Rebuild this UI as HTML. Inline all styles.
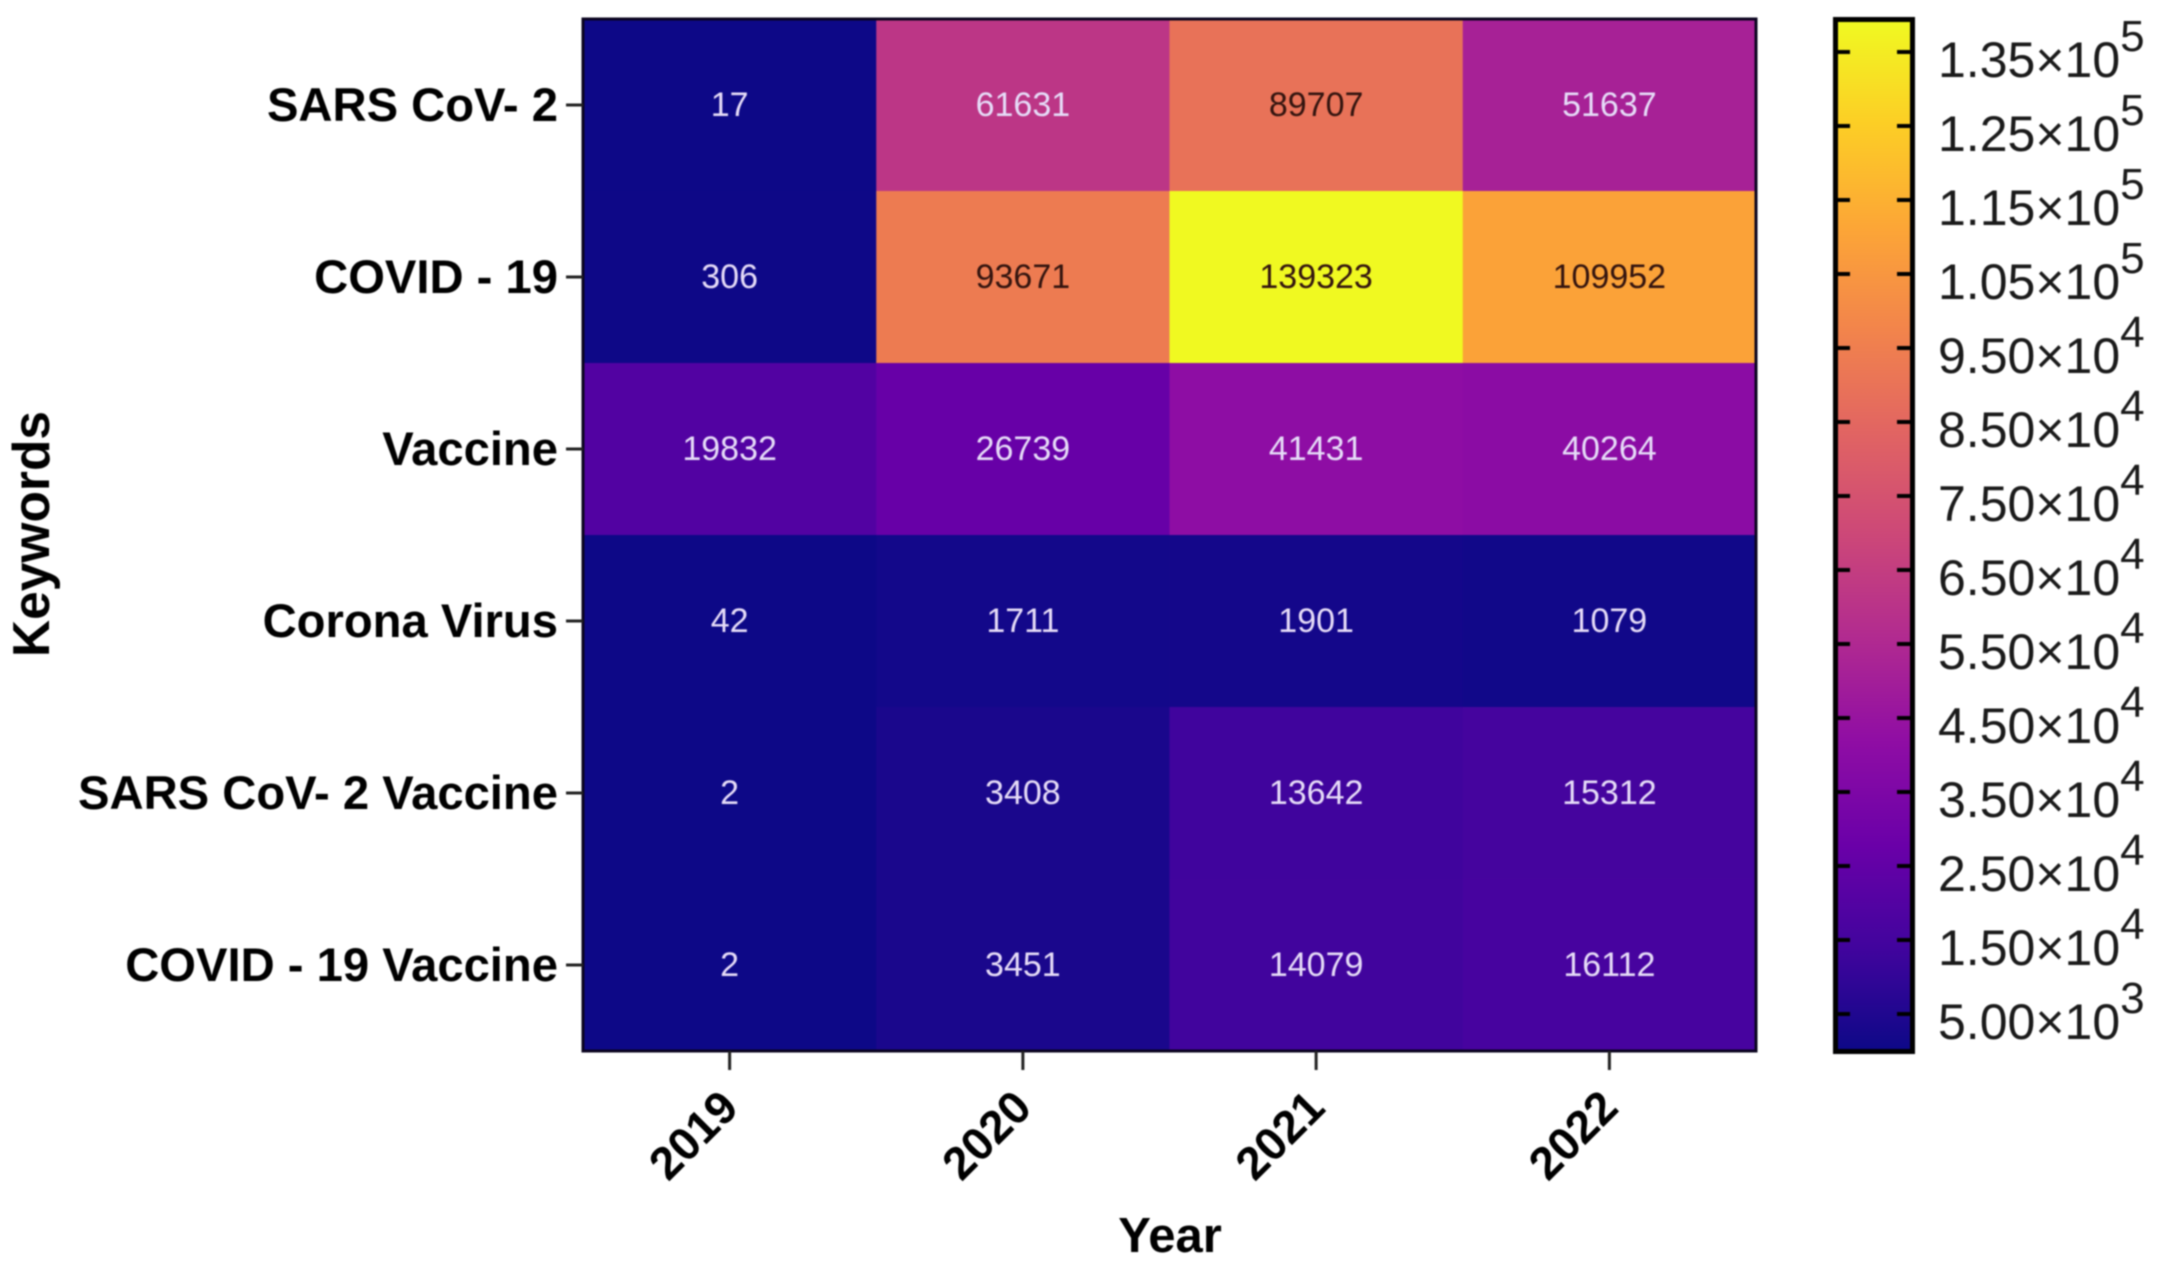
<!DOCTYPE html>
<html lang="en">
<head>
<meta charset="utf-8">
<title>Keywords by Year Heatmap</title>
<style>
  html, body { margin: 0; padding: 0; background: #ffffff; }
  body { width: 2165px; height: 1276px; overflow: hidden; }
  svg { display: block; filter: blur(0.9px); }
  text { font-family: "Liberation Sans", Arial, sans-serif; }
</style>
</head>
<body>
<svg id="chart" xmlns="http://www.w3.org/2000/svg" width="2165" height="1276" viewBox="0 0 2165 1276">
  <rect x="0" y="0" width="2165" height="1276" fill="#ffffff"/>
  <defs>
    <linearGradient id="plasmaGradient" x1="0" y1="1" x2="0" y2="0"></linearGradient>
  </defs>
  <g id="cells"></g>
  <g id="cellLabels"></g>
  <rect x="583" y="19" width="1173" height="1032" fill="none" stroke="#0b0520" stroke-width="3"/>
  <g id="xAxis"></g>
  <g id="yAxis"></g>
  <text x="1170" y="1252" font-size="49" font-weight="700" text-anchor="middle" fill="#000">Year</text>
  <text x="0" y="0" transform="translate(49 534) rotate(-90)" font-size="51.5" font-weight="700" text-anchor="middle" fill="#000">Keywords</text>
  <rect id="colorbarRamp" x="1835" y="20" width="78" height="1031" fill="url(#plasmaGradient)"/>
  <g id="colorbarAxis"></g>
  <rect x="1835.5" y="19.5" width="77" height="1032" fill="none" stroke="#000" stroke-width="5"/>
</svg>
<script>
const years = ["2019", "2020", "2021", "2022"];
const keywords = ["SARS CoV- 2", "COVID - 19", "Vaccine", "Corona Virus", "SARS CoV- 2 Vaccine", "COVID - 19 Vaccine"];
const sarsCov2Counts = [17, 61631, 89707, 51637];
const covid19Counts = [306, 93671, 139323, 109952];
const vaccineCounts = [19832, 26739, 41431, 40264];
const coronaVirusCounts = [42, 1711, 1901, 1079];
const sarsCov2VaccineCounts = [2, 3408, 13642, 15312];
const covid19VaccineCounts = [2, 3451, 14079, 16112];
const colorbarTicks = [135000, 125000, 115000, 105000, 95000, 85000, 75000, 65000, 55000, 45000, 35000, 25000, 15000, 5000];
const plasmaStops = ["#0d0887", "#41049d", "#6a00a8", "#8f0da4", "#b12a90", "#cc4778", "#e16462", "#f2844b", "#fca636", "#fcce25", "#f0f921"];

const rows = [sarsCov2Counts, covid19Counts, vaccineCounts, coronaVirusCounts, sarsCov2VaccineCounts, covid19VaccineCounts];
const SVG_NS = "http://www.w3.org/2000/svg";

const plot = { left: 583, right: 1756, top: 19, bottom: 1051 };
const colorbar = { top: 20, bottom: 1051 };

const allValues = rows.flat();
const minValue = Math.min(...allValues);
const maxValue = Math.max(...allValues);

function xBandStart(i) { return plot.left + i * (plot.right - plot.left) / years.length; }
function xBandWidth() { return (plot.right - plot.left) / years.length; }
function xCenter(i) { return xBandStart(i) + xBandWidth() / 2; }
function yBandStart(i) { return plot.top + i * (plot.bottom - plot.top) / keywords.length; }
function yBandHeight() { return (plot.bottom - plot.top) / keywords.length; }
function yCenter(i) { return yBandStart(i) + yBandHeight() / 2; }
function norm(v) { return (v - minValue) / (maxValue - minValue); }
function colorbarY(v) { return colorbar.bottom + (colorbar.top - colorbar.bottom) * norm(v); }

function hexToRgb(h) {
  return [parseInt(h.slice(1, 3), 16), parseInt(h.slice(3, 5), 16), parseInt(h.slice(5, 7), 16)];
}
function colorFor(v) {
  const t = Math.max(0, Math.min(1, norm(v))) * (plasmaStops.length - 1);
  const i = Math.min(Math.floor(t), plasmaStops.length - 2);
  const f = t - i;
  const a = hexToRgb(plasmaStops[i]);
  const b = hexToRgb(plasmaStops[i + 1]);
  return "rgb(" + a.map((c, k) => Math.round(c + (b[k] - c) * f)).join(",") + ")";
}
function make(tag, attrs, text) {
  const el = document.createElementNS(SVG_NS, tag);
  for (const k in attrs) el.setAttribute(k, attrs[k]);
  if (text !== undefined) el.textContent = text;
  return el;
}

const cellsGroup = document.getElementById("cells");
const cellLabelsGroup = document.getElementById("cellLabels");
rows.forEach((row, r) => {
  row.forEach((value, c) => {
    const cell = make("rect", {
      x: xBandStart(c), y: yBandStart(r),
      width: xBandWidth() + 0.5, height: yBandHeight() + 0.5,
      fill: colorFor(value)
    });
    
    
    cellsGroup.appendChild(cell);

    const label = make("text", {
      x: xCenter(c), y: yCenter(r) + 11,
      "font-size": 34, "text-anchor": "middle",
      fill: norm(value) > 0.6 ? "#33140f" : "#e6dcf8"
    }, String(value));
    
    
    cellLabelsGroup.appendChild(label);
  });
});

const xAxisGroup = document.getElementById("xAxis");
years.forEach((year, i) => {
  const tick = make("line", {
    x1: xCenter(i), x2: xCenter(i), y1: plot.bottom, y2: 1070,
    stroke: "#222", "stroke-width": 3
  });
  
  
  xAxisGroup.appendChild(tick);

  const label = make("text", {
    x: 0, y: 0,
    transform: "translate(" + (xCenter(i) + 11) + " 1110) rotate(-45)",
    "font-size": 46, "font-weight": 700, "text-anchor": "end", fill: "#000"
  }, year);
  
  
  xAxisGroup.appendChild(label);
});

const yAxisGroup = document.getElementById("yAxis");
keywords.forEach((keyword, i) => {
  const tick = make("line", {
    x1: 566, x2: plot.left, y1: yCenter(i), y2: yCenter(i),
    stroke: "#222", "stroke-width": 3
  });
  
  
  yAxisGroup.appendChild(tick);

  const label = make("text", {
    x: 558, y: yCenter(i) + 16,
    "font-size": 47.2, "font-weight": 700, "text-anchor": "end", fill: "#000"
  }, keyword);
  
  
  yAxisGroup.appendChild(label);
});

const gradient = document.getElementById("plasmaGradient");
plasmaStops.forEach((color, i) => {
  gradient.appendChild(make("stop", {
    offset: (i / (plasmaStops.length - 1) * 100) + "%",
    "stop-color": color
  }));
});

const colorbarAxisGroup = document.getElementById("colorbarAxis");
colorbarTicks.forEach((value) => {
  const y = colorbarY(value);
  const leftTick = make("line", { x1: 1835, x2: 1850, y1: y, y2: y, stroke: "#000", "stroke-width": 4 });
  
  
  colorbarAxisGroup.appendChild(leftTick);

  const rightTick = make("line", { x1: 1897, x2: 1913, y1: y, y2: y, stroke: "#000", "stroke-width": 4 });
  
  
  colorbarAxisGroup.appendChild(rightTick);

  const exponent = Math.floor(Math.log10(value));
  const mantissa = (value / Math.pow(10, exponent)).toFixed(2);
  const label = make("text", { x: 1938, y: y + 25, "font-size": 50, fill: "#1a1a1a" }, mantissa + "×10");
  const sup = make("tspan", { "font-size": 44, dy: -26 }, String(exponent));
  label.appendChild(sup);
  
  
  colorbarAxisGroup.appendChild(label);
});
</script>
</body>
</html>
